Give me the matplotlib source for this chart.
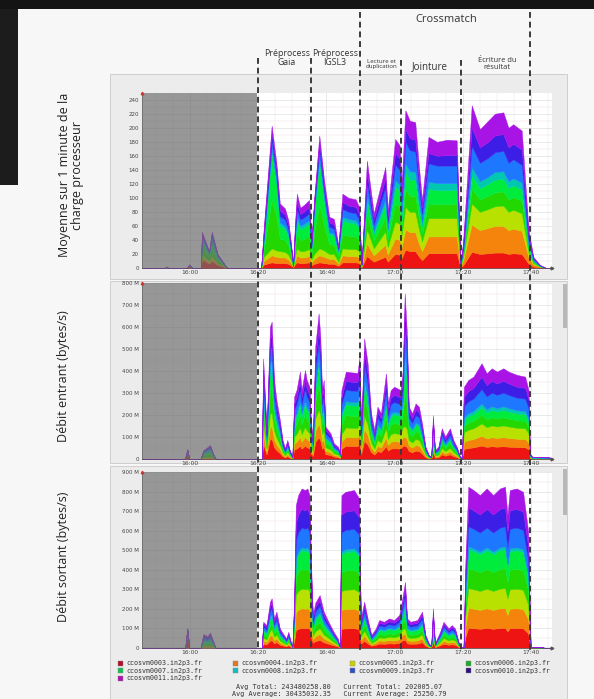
import numpy as np
import matplotlib
matplotlib.use("Agg")
import matplotlib.pyplot as plt
from matplotlib import transforms
from matplotlib.patches import Rectangle
from matplotlib.lines import Line2D

# ---------------- data ----------------
hosts = ["ccosvm0003.in2p3.fr", "ccosvm0004.in2p3.fr", "ccosvm0005.in2p3.fr",
         "ccosvm0006.in2p3.fr", "ccosvm0007.in2p3.fr", "ccosvm0008.in2p3.fr",
         "ccosvm0009.in2p3.fr", "ccosvm0010.in2p3.fr", "ccosvm0011.in2p3.fr"]
host_colors = ["#ee1414", "#f5840c", "#b8e000", "#22d800", "#00ec3c",
               "#00c8b0", "#1e78ff", "#3c1ee6", "#a814e6"]
legend_colors = ["#b0102a", "#e07820", "#c8d000", "#20a828", "#10c050",
                 "#10c0c0", "#3050c0", "#30107a", "#b010b0"]

time_ticks = [0, 20, 40, 60, 80, 100]          # minutes after 16:00
time_labels = ["16:00", "16:20", "16:40", "17:00", "17:20", "17:40"]

phase_lines = [20.0, 35.4, 50.0, 61.8, 79.5, 99.8]   # minutes after 16:00

# panel 1 : load average (1 min), per host, stacked
cpu_t = [-15, -7.5, -7, -6.5, -1, -0.3, 0.5, 3.1, 3.4, 5.5, 6.3, 8.0, 10.5, 11,
         20.8, 21.6, 23.9, 25.3, 26.3, 27.8, 28.8, 29.8, 30.2, 30.7, 31.3, 32.3,
         33.4, 34.9, 35.6, 36.4, 37.9, 39.3, 40.8, 42.2, 43.5, 44.7, 46.5, 48.6,
         49.6, 50.3, 51.9, 53.9, 57.3, 58.0, 60.2, 61.5, 62.1, 63.2, 64.5, 66.1,
         67.1, 68.1, 70.0, 72.5, 75.5, 78.3, 79.4, 80.2, 82.7, 85.1, 87.5, 89.5,
         92.0, 93.5, 94.9, 97.4, 99.4, 100.8, 102.8, 104.5, 106.5]
cpu_rows = [
    [0, 0, 0, 0, 0, 0, 0, 0, 0], [0, 0, 0, 0, 0, 0, 0, 0, 0], [1, 0, 0, 1, 0, 0, 0, 0, 0],
    [0, 0, 0, 0, 0, 0, 0, 0, 0], [0, 0, 0, 0, 0, 0, 0, 0, 0], [3, 1, 0, 1, 0, 0, 0, 0, 0],
    [0, 0, 0, 0, 0, 0, 0, 0, 0], [0, 0, 0, 0, 0, 0, 0, 0, 0], [12, 4, 3, 10, 8, 5, 4, 3, 3],
    [6, 2, 2, 5, 4, 2, 1, 1, 1], [10, 4, 3, 9, 8, 6, 6, 3, 3], [4, 2, 1, 4, 3, 2, 2, 1, 1],
    [1, 0, 0, 1, 0, 0, 0, 0, 0], [0, 0, 0, 0, 0, 0, 0, 0, 0], [0, 0, 0, 0, 0, 0, 0, 0, 0],
    [5, 5, 6, 11, 11, 3, 6, 6, 7], [8, 10, 10, 69, 67, 6, 12, 10, 11], [7, 9, 9, 48, 46, 5, 9, 8, 8],
    [7, 8, 9, 18, 18, 5, 9, 8, 10], [7, 8, 8, 17, 16, 4, 9, 7, 9], [6, 6, 7, 13, 13, 3, 7, 6, 7],
    [3, 3, 3, 5, 4, 1, 2, 2, 2], [1, 0, 0, 1, 1, 0, 0, 0, 0], [5, 5, 6, 11, 11, 3, 6, 6, 7],
    [8, 10, 10, 20, 20, 5, 11, 10, 12], [7, 8, 9, 16, 16, 4, 9, 8, 9], [7, 8, 9, 17, 17, 5, 9, 8, 10],
    [8, 9, 10, 18, 18, 5, 10, 9, 10], [4, 4, 4, 8, 8, 2, 4, 3, 3], [6, 7, 7, 30, 30, 4, 6, 5, 5],
    [8, 10, 10, 63, 62, 5, 11, 10, 10], [7, 9, 9, 36, 35, 5, 9, 7, 8], [6, 7, 7, 14, 14, 3, 8, 6, 8],
    [6, 7, 7, 13, 13, 3, 7, 6, 8], [3, 3, 3, 7, 6, 2, 3, 2, 3], [8, 10, 10, 20, 20, 5, 11, 10, 12],
    [8, 9, 10, 19, 19, 5, 10, 9, 11], [8, 9, 10, 18, 18, 5, 10, 9, 11], [7, 8, 9, 16, 16, 4, 9, 8, 10],
    [1, 1, 1, 1, 1, 0, 0, 0, 0], [17, 18, 20, 21, 20, 8, 18, 14, 17], [9, 9, 10, 11, 10, 4, 9, 7, 9],
    [16, 17, 19, 20, 19, 7, 17, 13, 16], [9, 10, 11, 11, 11, 4, 10, 7, 9], [20, 22, 24, 26, 24, 9, 22, 17, 20],
    [19, 21, 23, 24, 23, 9, 21, 16, 19], [14, 16, 17, 13, 13, 7, 17, 10, 13], [26, 29, 32, 25, 25, 12, 31, 18, 27],
    [24, 27, 29, 23, 23, 12, 30, 17, 25], [24, 27, 29, 23, 23, 11, 29, 17, 25], [17, 19, 21, 16, 16, 8, 21, 12, 19],
    [11, 13, 14, 11, 11, 5, 13, 8, 11], [21, 24, 26, 21, 21, 10, 26, 15, 23], [21, 24, 26, 20, 20, 10, 25, 14, 20],
    [21, 24, 26, 20, 20, 10, 25, 15, 22], [21, 24, 26, 20, 20, 10, 25, 15, 21], [1, 1, 1, 1, 1, 0, 1, 0, 0],
    [4, 7, 5, 4, 3, 2, 5, 4, 6], [23, 39, 30, 21, 19, 12, 30, 26, 32], [20, 34, 26, 18, 16, 10, 26, 22, 26],
    [21, 36, 27, 19, 17, 10, 27, 23, 30], [22, 38, 28, 20, 18, 11, 28, 24, 31], [22, 38, 29, 20, 18, 11, 29, 24, 31],
    [20, 34, 26, 18, 16, 10, 26, 22, 28], [21, 35, 27, 18, 17, 10, 27, 22, 28], [20, 33, 25, 18, 16, 10, 25, 22, 27],
    [6, 9, 7, 5, 4, 3, 7, 6, 7], [2, 3, 2, 2, 1, 1, 2, 1, 2], [1, 1, 0, 1, 0, 0, 1, 0, 0],
    [0, 0, 0, 0, 0, 0, 0, 0, 0], [0, 0, 0, 0, 0, 0, 0, 0, 0]]

# panel 2 : bytes in (M bytes/s), per host, stacked
in_t = [-15, -1.6, -0.9, -0.3, 3.0, 3.8, 5.8, 6.8, 7.5, 21.0,
        21.4, 22.4, 23.4, 23.9, 24.6, 25.3, 26.3, 27.1, 27.8, 28.5,
        29.2, 30.0, 30.5, 31.2, 32.2, 32.7, 33.7, 34.2, 35.0, 35.4,
        36.0, 36.7, 37.7, 38.2, 38.7, 39.2, 39.7, 41.2, 42.2, 43.4,
        44.0, 44.4, 45.7, 47.1, 49.1, 49.7, 50.2, 51.1, 52.1, 53.1,
        54.1, 55.0, 56.0, 57.5, 58.1, 58.9, 59.9, 61.8, 62.4, 63.0,
        63.6, 64.2, 65.2, 66.2, 67.2, 68.1, 69.1, 70.1, 70.8, 71.3,
        71.9, 72.9, 73.9, 74.9, 76.3, 77.3, 78.3, 79.1, 79.8, 80.4,
        81.7, 83.2, 85.6, 87.1, 88.6, 90.1, 92.0, 93.5, 96.0, 98.4,
        99.4, 99.8, 100.5, 105.5, 106.5]
in_rows = [
    [0, 0, 0, 0, 0, 0, 0, 0, 0], [0, 0, 0, 0, 0, 0, 0, 0, 0], [30, 5, 3, 2, 2, 0, 1, 1, 0],
    [0, 0, 0, 0, 0, 0, 0, 0, 0], [0, 0, 0, 0, 0, 0, 0, 0, 0], [3, 2, 3, 8, 8, 5, 6, 3, 2],
    [4, 3, 4, 12, 12, 8, 10, 6, 5], [2, 1, 1, 4, 4, 3, 3, 1, 1], [0, 0, 0, 0, 0, 0, 0, 0, 0],
    [0, 0, 0, 0, 0, 0, 0, 0, 0],
    [69, 46, 50, 64, 55, 18, 60, 46, 50], [20, 13, 15, 18, 16, 5, 17, 13, 15],
    [90, 55, 60, 110, 100, 20, 60, 50, 58], [92, 56, 62, 115, 104, 21, 62, 52, 61],
    [54, 36, 40, 50, 43, 14, 47, 36, 40], [40, 27, 30, 38, 32, 11, 35, 27, 29],
    [27, 18, 20, 25, 21, 7, 23, 18, 19], [13, 9, 10, 12, 10, 3, 11, 9, 10],
    [7, 5, 5, 7, 6, 2, 6, 5, 6], [13, 9, 10, 12, 10, 3, 11, 9, 10],
    [6, 4, 5, 6, 5, 2, 5, 4, 4], [2, 1, 1, 2, 1, 0, 2, 1, 1],
    [43, 28, 31, 40, 34, 11, 37, 28, 32], [47, 31, 35, 44, 38, 13, 41, 31, 34],
    [60, 40, 44, 56, 48, 16, 52, 40, 42], [47, 31, 35, 44, 38, 13, 41, 31, 34],
    [61, 40, 45, 57, 49, 16, 53, 40, 44], [54, 36, 40, 50, 43, 14, 47, 36, 40],
    [49, 33, 36, 46, 39, 13, 43, 33, 37], [27, 18, 20, 25, 21, 7, 23, 18, 19],
    [13, 9, 10, 12, 10, 3, 11, 9, 10], [77, 51, 56, 72, 61, 20, 67, 51, 57],
    [99, 60, 66, 110, 95, 25, 75, 63, 70], [84, 56, 61, 78, 67, 22, 72, 56, 61],
    [47, 31, 35, 44, 38, 13, 41, 31, 34], [54, 36, 40, 50, 43, 14, 47, 36, 40],
    [22, 15, 16, 21, 18, 6, 19, 15, 15], [18, 12, 13, 16, 14, 5, 15, 12, 12],
    [11, 7, 8, 10, 8, 3, 9, 7, 8], [8, 6, 6, 8, 7, 2, 7, 6, 6],
    [4, 3, 3, 4, 3, 1, 3, 2, 3], [47, 31, 35, 44, 38, 13, 41, 31, 34],
    [60, 40, 44, 56, 48, 16, 52, 40, 42], [59, 40, 43, 55, 47, 16, 52, 40, 43],
    [59, 39, 43, 55, 47, 16, 51, 39, 43], [69, 46, 51, 64, 55, 18, 60, 46, 51],
    [22, 15, 16, 21, 18, 6, 19, 15, 15], [82, 55, 60, 77, 66, 22, 71, 55, 61],
    [65, 44, 48, 61, 52, 17, 57, 44, 48], [31, 21, 23, 29, 25, 8, 27, 21, 23],
    [20, 13, 15, 18, 16, 5, 17, 13, 15], [36, 24, 26, 33, 29, 10, 31, 24, 25],
    [31, 21, 23, 29, 25, 8, 27, 21, 23], [58, 39, 43, 55, 47, 16, 51, 39, 42],
    [38, 25, 28, 35, 30, 10, 33, 25, 29], [47, 31, 35, 44, 38, 13, 41, 31, 34],
    [49, 33, 36, 46, 39, 13, 43, 33, 37], [47, 31, 35, 44, 38, 13, 41, 31, 34],
    [60, 40, 44, 56, 48, 16, 52, 40, 44], [60, 40, 50, 150, 150, 40, 120, 70, 74],
    [55, 38, 45, 110, 110, 30, 90, 55, 54], [36, 24, 26, 33, 29, 10, 31, 24, 25],
    [31, 21, 23, 29, 25, 8, 27, 21, 23], [38, 25, 28, 35, 30, 10, 33, 25, 29],
    [36, 24, 26, 33, 29, 10, 31, 24, 25], [24, 16, 18, 23, 19, 6, 21, 16, 19],
    [8, 6, 6, 8, 7, 2, 7, 6, 6], [3, 2, 2, 3, 2, 1, 2, 1, 2],
    [2, 1, 1, 1, 1, 0, 2, 1, 1], [30, 20, 22, 28, 24, 8, 26, 20, 22],
    [6, 4, 5, 6, 5, 2, 5, 4, 4], [8, 6, 6, 8, 7, 2, 7, 6, 6],
    [21, 14, 15, 20, 17, 6, 18, 14, 15], [15, 10, 11, 14, 12, 4, 13, 10, 13],
    [21, 14, 15, 20, 17, 6, 18, 14, 15], [13, 9, 10, 12, 10, 3, 11, 9, 10],
    [8, 6, 6, 8, 7, 2, 7, 6, 6], [3, 2, 2, 3, 2, 1, 2, 1, 2],
    [0, 0, 0, 0, 0, 0, 0, 0, 0], [46, 33, 43, 30, 26, 13, 49, 43, 46],
    [50, 36, 47, 32, 29, 14, 54, 47, 51], [53, 38, 49, 34, 30, 15, 56, 49, 51],
    [61, 44, 57, 39, 35, 17, 65, 57, 61], [55, 39, 51, 35, 31, 16, 58, 51, 54],
    [58, 41, 54, 37, 33, 17, 62, 54, 57], [56, 40, 52, 36, 32, 16, 60, 52, 54],
    [58, 41, 54, 37, 33, 17, 62, 54, 57], [56, 40, 52, 36, 32, 16, 60, 52, 54],
    [54, 38, 50, 34, 31, 15, 57, 50, 54], [53, 38, 49, 34, 30, 15, 56, 49, 51],
    [44, 31, 41, 28, 25, 13, 47, 41, 44], [4, 3, 3, 2, 2, 1, 4, 3, 4],
    [1, 1, 1, 1, 1, 2, 1, 1, 1], [1, 1, 1, 1, 1, 1, 1, 0, 1],
    [0, 0, 0, 0, 0, 0, 0, 0, 0]]

# panel 3 : bytes out (M bytes/s), per host, stacked
out_t = [-15, -1.5, -0.9, -0.3, 3.0, 3.8, 5.0, 5.8, 6.8, 7.4,
         21.0, 21.4, 22.4, 23.4, 23.9, 24.6, 25.3, 26.3, 27.2, 28.2,
         28.8, 29.5, 30.0, 30.5, 31.0, 31.7, 32.7, 33.7, 34.4, 35.0,
         35.5, 36.0, 36.7, 38.0, 39.2, 40.6, 42.1, 43.3, 43.9, 44.4,
         45.6, 48.1, 49.6, 50.1, 51.1, 52.1, 53.2, 54.5, 55.5, 56.9,
         58.4, 59.9, 61.4, 62.3, 63.1, 63.7, 64.7, 66.7, 68.1, 69.1,
         70.1, 70.8, 71.3, 71.9, 73.4, 74.4, 75.9, 76.8, 77.8, 78.8,
         79.3, 80.3, 80.8, 81.7, 83.2, 85.1, 87.1, 89.0, 91.0, 92.5,
         93.2, 93.9, 95.9, 97.8, 99.3, 100.0, 100.8, 103.0, 104.0, 106.5]
out_rows = [
    [0, 0, 0, 0, 0, 0, 0, 0, 0], [0, 0, 0, 0, 0, 0, 0, 0, 0], [70, 12, 6, 4, 3, 1, 2, 1, 0],
    [0, 0, 0, 0, 0, 0, 0, 0, 0], [0, 0, 0, 0, 0, 0, 0, 0, 0], [4, 3, 4, 10, 12, 8, 12, 9, 8],
    [3, 3, 3, 9, 10, 7, 10, 8, 7], [4, 3, 4, 12, 13, 9, 13, 10, 10], [2, 1, 2, 5, 5, 4, 5, 3, 3],
    [0, 0, 0, 0, 0, 0, 0, 0, 0],
    [0, 0, 0, 0, 0, 0, 0, 0, 0], [20, 15, 15, 16, 19, 7, 16, 13, 12],
    [17, 13, 13, 14, 16, 6, 14, 12, 11], [35, 26, 26, 28, 33, 12, 28, 24, 24],
    [38, 28, 28, 30, 35, 13, 30, 25, 26], [22, 17, 17, 18, 21, 7, 18, 15, 15],
    [28, 20, 20, 22, 26, 9, 22, 19, 19], [15, 11, 11, 12, 14, 5, 12, 10, 9],
    [11, 8, 8, 9, 10, 4, 9, 7, 7], [7, 5, 5, 6, 7, 2, 6, 5, 5],
    [12, 9, 9, 10, 11, 4, 10, 8, 9], [5, 3, 3, 4, 4, 2, 4, 3, 3],
    [1, 1, 1, 0, 1, 0, 1, 0, 0], [31, 31, 31, 31, 30, 5, 31, 30, 33],
    [90, 90, 90, 90, 86, 14, 90, 86, 96], [97, 97, 97, 97, 92, 14, 97, 92, 100],
    [101, 101, 101, 101, 96, 15, 101, 96, 105], [100, 100, 100, 100, 95, 15, 100, 95, 104],
    [101, 101, 101, 101, 96, 15, 101, 96, 105], [97, 97, 97, 97, 92, 14, 97, 92, 100],
    [52, 52, 52, 52, 50, 8, 52, 50, 56], [25, 18, 18, 20, 24, 8, 20, 17, 18],
    [34, 25, 25, 28, 32, 12, 28, 23, 23], [40, 30, 30, 32, 38, 13, 32, 27, 28],
    [28, 20, 20, 22, 26, 9, 22, 19, 19], [20, 15, 15, 16, 19, 7, 16, 13, 12],
    [12, 9, 9, 10, 11, 4, 10, 8, 9], [7, 5, 5, 6, 7, 2, 6, 5, 5],
    [1, 1, 1, 0, 1, 0, 1, 0, 0], [97, 97, 97, 97, 92, 14, 97, 92, 100],
    [99, 99, 99, 99, 94, 15, 99, 94, 102], [100, 100, 100, 100, 95, 15, 100, 95, 104],
    [95, 95, 95, 95, 90, 14, 95, 90, 97], [22, 17, 17, 18, 21, 7, 18, 15, 15],
    [35, 26, 26, 28, 33, 12, 28, 24, 24], [22, 17, 17, 18, 21, 7, 18, 15, 15],
    [10, 7, 7, 8, 9, 3, 8, 7, 6], [15, 11, 11, 12, 14, 5, 12, 10, 9],
    [21, 16, 16, 17, 20, 7, 17, 14, 14], [20, 15, 15, 16, 19, 7, 16, 13, 12],
    [22, 17, 17, 18, 21, 7, 18, 15, 15], [21, 16, 16, 17, 20, 7, 17, 14, 14],
    [25, 18, 18, 20, 24, 8, 20, 17, 18], [38, 28, 28, 30, 35, 13, 30, 25, 26],
    [40, 30, 30, 45, 55, 25, 45, 35, 33], [22, 17, 17, 18, 21, 7, 18, 15, 15],
    [20, 15, 15, 16, 19, 7, 16, 13, 12], [21, 16, 16, 17, 20, 7, 17, 14, 14],
    [28, 20, 20, 22, 26, 9, 22, 19, 19], [10, 7, 7, 8, 9, 3, 8, 7, 6],
    [3, 2, 2, 3, 3, 1, 3, 2, 3], [2, 1, 1, 1, 2, 0, 1, 1, 1],
    [30, 22, 22, 24, 28, 10, 24, 20, 22], [3, 2, 2, 3, 3, 1, 3, 2, 3],
    [12, 9, 9, 10, 11, 4, 10, 8, 9], [20, 15, 15, 16, 19, 7, 16, 13, 12],
    [15, 11, 11, 12, 14, 5, 12, 10, 9], [17, 13, 13, 14, 16, 6, 14, 12, 11],
    [15, 11, 11, 12, 14, 5, 12, 10, 9], [5, 3, 3, 4, 4, 2, 4, 3, 3],
    [1, 1, 1, 0, 1, 0, 1, 0, 0], [0, 0, 0, 0, 0, 0, 0, 0, 0],
    [52, 52, 52, 52, 50, 8, 52, 50, 56], [102, 102, 102, 102, 97, 15, 102, 97, 107],
    [100, 100, 100, 100, 95, 15, 100, 95, 104], [97, 97, 97, 97, 92, 14, 97, 92, 100],
    [101, 101, 101, 101, 96, 15, 101, 96, 105], [97, 97, 97, 97, 92, 14, 97, 92, 100],
    [101, 101, 101, 101, 96, 15, 101, 96, 105], [102, 102, 102, 102, 97, 15, 102, 97, 107],
    [84, 84, 84, 84, 80, 13, 84, 80, 87], [100, 100, 100, 100, 95, 15, 100, 95, 104],
    [101, 101, 101, 101, 96, 15, 101, 96, 105], [99, 99, 99, 99, 94, 15, 99, 94, 102],
    [73, 73, 73, 73, 70, 11, 73, 70, 79], [1, 1, 1, 0, 1, 0, 1, 0, 0],
    [0, 0, 0, 1, 1, 1, 1, 0, 0], [0, 0, 0, 1, 1, 1, 1, 0, 0],
    [0, 0, 0, 0, 0, 0, 0, 0, 0], [0, 0, 0, 0, 0, 0, 0, 0, 0]]

cpu_yticks = [0, 20, 40, 60, 80, 100, 120, 140, 160, 180, 200, 220, 240]
cpu_ylabels = ["0", "20", "40", "60", "80", "100", "120", "140", "160", "180", "200", "220", "240"]
in_yticks = [0, 100, 200, 300, 400, 500, 600, 700, 800]
in_ylabels = ["0", "100 M", "200 M", "300 M", "400 M", "500 M", "600 M", "700 M", "800 M"]
out_yticks = [0, 100, 200, 300, 400, 500, 600, 700, 800, 900]
out_ylabels = ["0", "100 M", "200 M", "300 M", "400 M", "500 M", "600 M", "700 M", "800 M", "900 M"]

panel_titles = ["Moyenne sur 1 minute de la\ncharge processeur",
                "Débit entrant (bytes/s)", "Débit sortant (bytes/s)"]
footer_lines = ["Avg Total: 243480258.80   Current Total: 202005.07",
                "Avg Average: 30435032.35   Current Average: 25250.79"]

# ---------------- layout ----------------
W, H = 594, 699
fig = plt.figure(figsize=(W / 100, H / 100), dpi=100)
fig.patch.set_facecolor("#f7f7f7")


def fx(px):
    return px / W


def fy(py):
    return 1 - py / H


def frect(x0, y0, x1, y1, **kw):
    r = Rectangle((fx(x0), fy(y1)), fx(x1) - fx(x0), (y1 - y0) / H,
                  transform=fig.transFigure, **kw)
    fig.add_artist(r)
    return r


# photo surroundings
frect(0, 0, 594, 9, facecolor="#141414", edgecolor="none", zorder=-1)
frect(0, 9, 18, 185, facecolor="#1c1c1c", edgecolor="none", zorder=-1)

# panel frames
frect(110, 74, 567, 279, facecolor="#ececec", edgecolor="#c8c8c8", lw=0.6, zorder=-2)
frect(110, 281, 567, 463, facecolor="#ececec", edgecolor="#c8c8c8", lw=0.6, zorder=-2)
frect(110, 466, 567, 702, facecolor="#ececec", edgecolor="#c8c8c8", lw=0.6, zorder=-2)
frect(563, 284, 567, 328, facecolor="#b8b8b8", edgecolor="none", zorder=-1)
frect(563, 469, 567, 515, facecolor="#b8b8b8", edgecolor="none", zorder=-1)

XMIN, XMAX = -14.3, 106.3
GRAY_END = 19.67
AX_L, AX_R = 141.7, 552.0


def make_panel(top_px, zero_px, ymax, yticks, ylabels, times, rows):
    ax = fig.add_axes([fx(AX_L), fy(zero_px), fx(AX_R) - fx(AX_L), (zero_px - top_px) / H])
    ax.set_facecolor("white")
    series = np.array(rows, dtype=float).T
    ax.stackplot(times, series, colors=host_colors, linewidth=0.3,
                 edgecolor="face", zorder=2)
    ax.axvspan(XMIN, GRAY_END, color="#6b6b6b", alpha=0.7, lw=0, zorder=3)
    ax.set_xlim(XMIN, XMAX)
    ax.set_ylim(0, ymax)
    ax.set_xticks(time_ticks)
    ax.set_xticklabels(time_labels)
    ax.set_xticks(np.arange(-10, 106, 5), minor=True)
    ax.set_yticks(yticks)
    ax.set_yticklabels(ylabels)
    step = yticks[1] - yticks[0]
    ax.set_yticks(np.arange(step / 2, ymax, step), minor=True)
    ax.set_axisbelow(True)
    ax.grid(which="major", color="#d8d8d8", lw=0.4)
    ax.grid(which="minor", axis="x", color="#e6e6e6", lw=0.35)
    ax.grid(which="minor", axis="y", color="#f0dcdc", lw=0.3)
    ax.tick_params(which="both", length=0, labelsize=4, colors="#444444", pad=2)
    ax.tick_params(axis="x", pad=1.5, labelsize=4.3)
    for s in ("top", "right"):
        ax.spines[s].set_visible(False)
    for s in ("left", "bottom"):
        ax.spines[s].set_color("#555555")
        ax.spines[s].set_linewidth(0.5)
    ax.plot([1.0], [0], marker=">", ms=2, color="#555555",
            transform=ax.transAxes, clip_on=False, zorder=5)
    ax.plot([0], [1.0], marker="^", ms=1.8, color="#d03030",
            transform=ax.transAxes, clip_on=False, zorder=5)
    return ax


ax1 = make_panel(92.7, 268.0, 250, cpu_yticks, cpu_ylabels, cpu_t, cpu_rows)
ax2 = make_panel(283.3, 459.0, 800, in_yticks, in_ylabels, in_t, in_rows)
ax3 = make_panel(472.3, 647.7, 900, out_yticks, out_ylabels, out_t, out_rows)

# phase separators (dashed) spanning the three panels
trans = transforms.blended_transform_factory(ax1.transData, fig.transFigure)
line_tops = [58, 58, 12, 60, 60, 12]
for t, top in zip(phase_lines, line_tops):
    fig.add_artist(Line2D([t, t], [fy(top), fy(650)], transform=trans,
                          color="#3a3a3a", lw=1.4, dashes=(3, 2), zorder=10))

sans = ["Open Sans", "DejaVu Sans"]
fig.text(fx(446), fy(19), "Crossmatch", fontsize=8, family=sans, color="#333333",
         ha="center", va="center")
fig.text(fx(287), fy(58), "Préprocess\nGaia", fontsize=6.3, family=sans, color="#333333",
         ha="center", va="center", linespacing=1.05)
fig.text(fx(335), fy(58), "Préprocess\nIGSL3", fontsize=6.3, family=sans, color="#333333",
         ha="center", va="center", linespacing=1.05)
fig.text(fx(381), fy(64), "Lecture et\nduplication", fontsize=4.4, family=sans, color="#333333",
         ha="center", va="center", linespacing=1.05)
fig.text(fx(430), fy(67), "Jointure", fontsize=7, family=sans, color="#333333",
         ha="center", va="center")
fig.text(fx(497), fy(64), "Écriture du\nrésultat", fontsize=5.4, family=sans, color="#333333",
         ha="center", va="center", linespacing=1.05)

# y titles
fig.text(fx(71), fy(175), panel_titles[0], rotation=90, fontsize=9, family=sans,
         color="#222222", ha="center", va="center", linespacing=1.05)
fig.text(fx(64), fy(376), panel_titles[1], rotation=90, fontsize=9, family=sans,
         color="#222222", ha="center", va="center")
fig.text(fx(64), fy(557), panel_titles[2], rotation=90, fontsize=9, family=sans,
         color="#222222", ha="center", va="center")

# legend (ganglia style, 4 columns)
mono = ["DejaVu Sans Mono"]
col_x = [118, 233, 350, 466]
row_y = [663, 670.7, 678.3]
for i, (name, c) in enumerate(zip(hosts, legend_colors)):
    x0 = col_x[i % 4]
    y0 = row_y[i // 4]
    frect(x0, y0 - 2.5, x0 + 5, y0 + 2.5, facecolor=c, edgecolor="#888888", lw=0.3, zorder=2)
    fig.text(fx(x0 + 8), fy(y0), name, fontsize=4.8, family=mono, color="#333333",
             ha="left", va="center")

fig.text(fx(339), fy(686.7), footer_lines[0], fontsize=4.9, family=mono, color="#333333",
         ha="center", va="center")
fig.text(fx(339), fy(694.3), footer_lines[1], fontsize=4.9, family=mono, color="#333333",
         ha="center", va="center")

fig.savefig("out.png", dpi=100, facecolor=fig.get_facecolor())
